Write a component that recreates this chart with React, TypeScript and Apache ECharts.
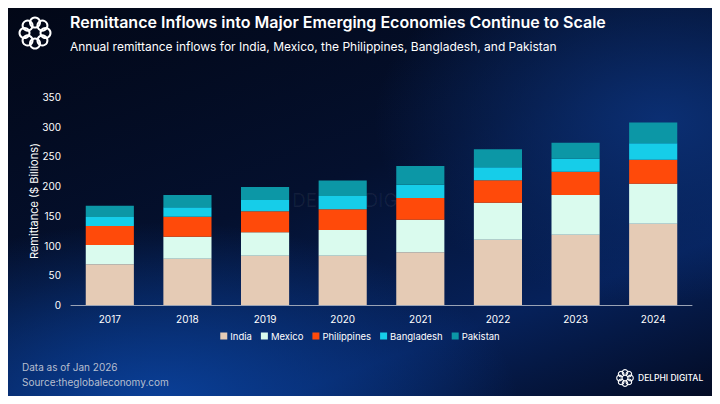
import React, { useEffect, useRef } from "react";
import * as echarts from "echarts";

const years = ["2017", "2018", "2019", "2020", "2021", "2022", "2023", "2024"];
const india = [68.5, 78, 83, 83, 88.7, 110, 118.4, 136.9];
const mexico = [32.5, 37, 39.4, 43.3, 54.9, 62.2, 66.8, 67.3];
const philippines = [32, 33.7, 35.3, 34.7, 36.5, 37.7, 39.2, 40.4];
const bangladesh = [15, 15.8, 19.1, 22.5, 22.4, 21.9, 21.9, 27.6];
const pakistan = [19, 20.5, 21.9, 25.8, 31.5, 30.3, 26.9, 34.7];
const yTicks = [0, 50, 100, 150, 200, 250, 300, 350];

const seriesDefs = [
  { name: "India", data: india, color: "#E5CBB5" },
  { name: "Mexico", data: mexico, color: "#DAFBEE" },
  { name: "Philippines", data: philippines, color: "#FF4A0A" },
  { name: "Bangladesh", data: bangladesh, color: "#16CDE9" },
  { name: "Pakistan", data: pakistan, color: "#0C97A6" },
];

const FONT = "Inter, 'Noto Sans', sans-serif";

function logo(cx: number, cy: number, r: number, sr: number, lw: number, color: string, z = 10) {
  const items: any[] = [];
  for (let i = 0; i < 8; i++) {
    const a = (i / 8) * Math.PI * 2;
    items.push({
      type: "circle",
      z,
      shape: { cx: cx + r * Math.cos(a), cy: cy + r * Math.sin(a), r: sr },
      style: { fill: "none", stroke: color, lineWidth: lw },
    });
  }
  return items;
}

export default function App() {
  const ref = useRef<HTMLDivElement>(null);
  useEffect(() => {
    if (!ref.current) return;
    const chart = echarts.init(ref.current, undefined, { renderer: "svg" });
    chart.setOption({
      animation: false,
      backgroundColor: "transparent",
      grid: { left: 71, right: 28, top: 97, bottom: 99 },
      legend: {
        bottom: 58,
        left: "center",
        itemWidth: 7,
        itemHeight: 7,
        itemGap: 9,
        icon: "rect",
        textStyle: { color: "#ffffff", fontSize: 9.5, fontFamily: FONT, padding: [0, 0, 0, -2] },
        data: seriesDefs.map((s) => s.name),
      },
      xAxis: {
        type: "category",
        data: years,
        axisLine: { lineStyle: { color: "#9aa3b5", width: 1 } },
        axisTick: { show: false },
        axisLabel: { color: "#ffffff", fontSize: 10, fontFamily: FONT, margin: 9 },
      },
      yAxis: {
        type: "value",
        min: yTicks[0],
        max: yTicks[yTicks.length - 1],
        interval: 50,
        name: "Remittance ($ Billions)",
        nameLocation: "middle",
        nameGap: 32,
        nameMoveOverlap: false,
        nameTextStyle: { color: "#ffffff", fontSize: 11, fontFamily: FONT },
        splitLine: { show: false },
        axisLine: { show: false },
        axisTick: { show: false },
        axisLabel: { color: "#ffffff", fontSize: 10, fontFamily: FONT, margin: 10 },
      },
      series: seriesDefs.map((s) => ({
        name: s.name,
        type: "bar",
        stack: "total",
        data: s.data,
        barWidth: "62%",
        itemStyle: { color: s.color },
        z: 3,
      })),
      graphic: [
        ...logo(35, 33, 10.5, 5, 2, "#ffffff"),
        {
          type: "text",
          left: 70,
          top: 14,
          style: {
            text: "Remittance Inflows into Major Emerging Economies Continue to Scale",
            fill: "#ffffff",
            font: `600 16px ${FONT}`,
          },
        },
        {
          type: "text",
          left: 70,
          top: 40,
          style: {
            text: "Annual remittance inflows for India, Mexico, the Philippines, Bangladesh, and Pakistan",
            fill: "#ffffff",
            font: `400 12px ${FONT}`,
          },
        },
        ...logo(271, 200, 8, 4, 1.5, "rgba(255,255,255,0.06)", 0),
        {
          type: "text",
          left: 292,
          top: 191,
          z: 0,
          style: {
            text: "DELPHI DIGITAL",
            fill: "rgba(255,255,255,0.06)",
            font: `400 19px ${FONT}`,
          },
        },
        {
          type: "text",
          left: 22,
          top: 362,
          style: { text: "Data as of Jan 2026", fill: "#b7bfcf", font: `400 10px ${FONT}` },
        },
        {
          type: "text",
          left: 22,
          top: 377,
          style: { text: "Source:theglobaleconomy.com", fill: "#b7bfcf", font: `400 10px ${FONT}` },
        },
        ...logo(625, 378, 5.5, 2.8, 1.1, "#ffffff"),
        {
          type: "text",
          left: 638,
          top: 373,
          style: { text: "DELPHI DIGITAL", fill: "#ffffff", font: `500 8.5px ${FONT}` },
        },
      ],
    });
    return () => chart.dispose();
  }, []);
  return (
    <div
      ref={ref}
      style={{
        width: 720,
        height: 404,
        margin: -8,
        background:
          "radial-gradient(ellipse 50% 45% at 22% 100%, #0a4099 0%, rgba(10,64,153,0) 100%), radial-gradient(ellipse 40% 45% at 92% 30%, #0b2f73 0%, rgba(11,47,115,0) 100%), linear-gradient(160deg, #020716 0%, #04102e 45%, #06215a 75%, #030a20 100%)",
      }}
    />
  );
}
